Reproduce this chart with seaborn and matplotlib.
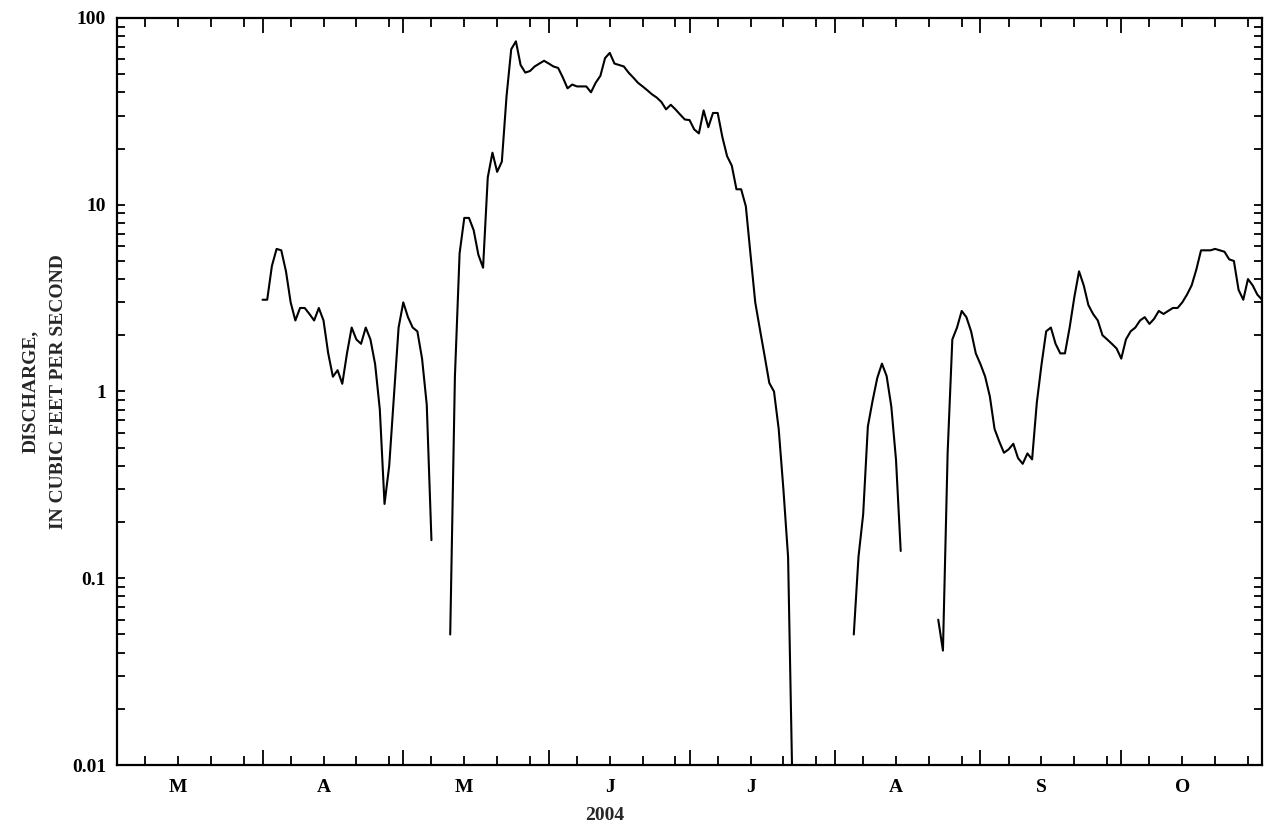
import matplotlib
matplotlib.use("Agg")
import matplotlib.pyplot as plt
import matplotlib.dates as mdates
import matplotlib.ticker as mticker
import numpy as np
import pandas as pd
import seaborn as sns

# daily mean discharge, cubic feet per second (gaps = no flow / no record)
seg_starts = ["2004-04-01", "2004-05-11", "2004-08-05", "2004-08-23"]

q_apr_may = [3.1, 3.1, 4.7, 5.8, 5.7, 4.4, 3.0, 2.4, 2.8, 2.8,
             2.6, 2.4, 2.8, 2.4, 1.6, 1.2, 1.3, 1.1, 1.6, 2.2,
             1.9, 1.8, 2.2, 1.9, 1.4, 0.80, 0.25, 0.40, 0.94, 2.2,
             3.0, 2.5, 2.2, 2.1, 1.5, 0.85, 0.16]

q_may_jul = [0.05, 1.2, 5.5, 8.5, 8.5, 7.3, 5.4, 4.6, 14, 19,
             15, 17, 38, 68, 75, 56, 51, 52, 55, 57,
             59, 57, 55, 54, 48, 42, 44, 43, 43, 43,
             40, 45, 49, 61, 65, 57, 56, 55, 51, 48,
             45, 43, 41, 39, 37.5, 35.5, 32.4, 34.3, 32.4, 30.4,
             28.6, 28.4, 25.3, 24.1, 32, 26, 31, 31, 23, 18.2,
             16.2, 12.1, 12.1, 9.8, 5.4, 3.0, 2.15, 1.55, 1.11, 1.0,
             0.63, 0.30, 0.13, 0.006]

q_aug = [0.05, 0.13, 0.22, 0.65, 0.89, 1.18, 1.41, 1.21, 0.83, 0.43, 0.14]

q_aug_oct = [0.060, 0.041, 0.47, 1.9, 2.2, 2.7, 2.5, 2.1, 1.6, 1.4,
             1.2, 0.94, 0.63, 0.54, 0.47, 0.49, 0.525, 0.44, 0.41, 0.466,
             0.433, 0.87, 1.39, 2.1, 2.2, 1.8, 1.6, 1.6, 2.2, 3.2,
             4.4, 3.7, 2.9, 2.6, 2.4, 2.0, 1.9, 1.8, 1.7, 1.5,
             1.9, 2.1, 2.2, 2.4, 2.5, 2.3, 2.45, 2.7, 2.6, 2.7,
             2.8, 2.8, 3.0, 3.3, 3.7, 4.5, 5.7, 5.7, 5.7, 5.8,
             5.7, 5.6, 5.1, 5.0, 3.5, 3.1, 4.0, 3.7, 3.3, 3.1]

y_tick_values = [0.01, 0.1, 1, 10, 100]
y_tick_labels = ["0.01", "0.1", "1", "10", "100"]

frames = []
for i, (start, vals) in enumerate(zip(seg_starts, [q_apr_may, q_may_jul, q_aug, q_aug_oct])):
    frames.append(pd.DataFrame({
        "date": pd.date_range(start, periods=len(vals), freq="D"),
        "discharge": vals,
        "segment": i,
    }))
df = pd.concat(frames, ignore_index=True)

sns.set_style("white")
plt.rcParams["font.family"] = ["Liberation Serif", "DejaVu Serif"]
plt.rcParams["font.weight"] = "bold"

fig, ax = plt.subplots(figsize=(12.68, 8.32), dpi=100)
fig.subplots_adjust(left=0.0923, right=0.9953, top=0.9784, bottom=0.0805)

sns.lineplot(data=df, x="date", y="discharge", units="segment", estimator=None,
             color="black", linewidth=1.5, legend=False, ax=ax)

ax.set_yscale("log")
ax.set_ylim(0.01, 100)
ax.set_xlim(pd.Timestamp("2004-03-01"), pd.Timestamp("2004-10-31"))

ax.yaxis.set_major_locator(mticker.FixedLocator(y_tick_values))
ax.yaxis.set_major_formatter(mticker.FixedFormatter(y_tick_labels))
ax.yaxis.set_minor_locator(mticker.LogLocator(base=10, subs=np.arange(2, 10)))
ax.yaxis.set_minor_formatter(mticker.NullFormatter())

ax.xaxis.set_major_locator(mdates.MonthLocator())
ax.xaxis.set_major_formatter(mticker.NullFormatter())
ax.xaxis.set_minor_locator(mdates.DayLocator(bymonthday=[7, 14, 21, 28]))


def month_letter(x, pos=None):
    d = mdates.num2date(x)
    return d.strftime("%b")[0] if d.day == 14 else ""


ax.xaxis.set_minor_formatter(mticker.FuncFormatter(month_letter))

ax.tick_params(axis="both", which="both", direction="in",
               left=True, right=True, top=True, bottom=True,
               width=1.3, colors="black", labelsize=14)
ax.tick_params(axis="x", which="major", length=11)
ax.tick_params(axis="x", which="minor", length=6.5, pad=10)
ax.tick_params(axis="y", which="both", length=6, pad=8)

for side in ax.spines.values():
    side.set_linewidth(1.6)
    side.set_color("black")

ax.set_xlabel("2004", fontsize=14, fontweight="bold")
ax.xaxis.set_label_coords(0.426, -0.056)
ax.set_ylabel("DISCHARGE,\nIN CUBIC FEET PER SECOND", fontsize=14,
              fontweight="bold", linespacing=1.85)
ax.yaxis.set_label_coords(-0.0435, 0.5)

fig.savefig("out.png", dpi=100)
